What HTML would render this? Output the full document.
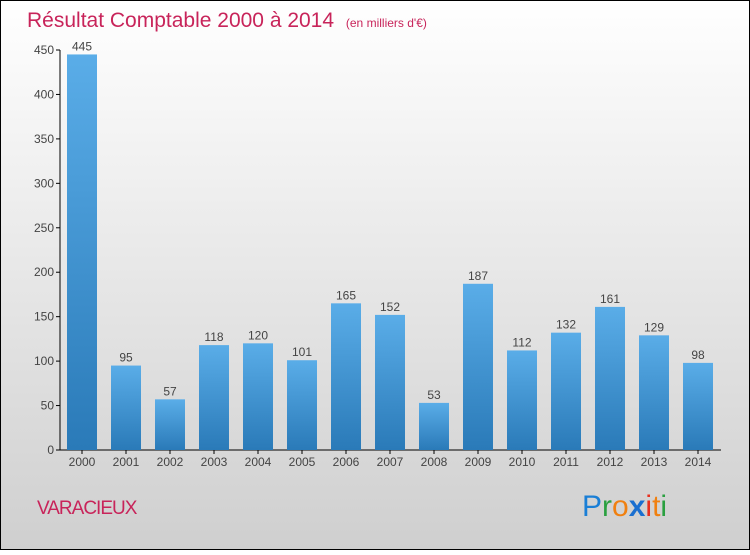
<!DOCTYPE html>
<html><head><meta charset="utf-8"><style>
body{margin:0;width:750px;height:550px;overflow:hidden;font-family:"Liberation Sans",sans-serif}
</style></head><body>
<svg id="chart" width="750" height="550" xmlns="http://www.w3.org/2000/svg">
<defs>
<linearGradient id="bg" x1="0" y1="0" x2="0" y2="1"><stop offset="0" stop-color="#ffffff"/><stop offset="1" stop-color="#cfcfcf"/></linearGradient>
<linearGradient id="bar" x1="0" y1="0" x2="0" y2="1"><stop offset="0" stop-color="#5aade8"/><stop offset="1" stop-color="#2a7ab8"/></linearGradient>
</defs>
<rect x="0.5" y="0.5" width="749" height="549" fill="url(#bg)" stroke="#000"/>
<text x="27" y="27" font-size="21" fill="#c8245a">Résultat Comptable 2000 à 2014 <tspan font-size="12" dx="6">(en milliers d'€)</tspan></text>
<g id="plot"></g>
<text x="37" y="514" font-size="19" fill="#c8245a" letter-spacing="-1">VARACIEUX</text>
<g font-size="30" font-family="Liberation Sans, sans-serif">
<text x="582" y="516"><tspan fill="#1a7fd6">P</tspan><tspan fill="#2aa040">r</tspan><tspan fill="#f08010">o</tspan><tspan fill="#1a6fd0" font-weight="bold">x</tspan><tspan fill="#e83020">i</tspan><tspan fill="#f08010">t</tspan><tspan fill="#2aa040">i</tspan></text>
</g>
</svg>
<script>
const categories=["2000","2001","2002","2003","2004","2005","2006","2007","2008","2009","2010","2011","2012","2013","2014"];
const values=[445,95,57,118,120,101,165,152,53,187,112,132,161,129,98];
const yTicks=[0,50,100,150,200,250,300,350,400,450];
const NS="http://www.w3.org/2000/svg";
const g=document.getElementById('plot');
const y0=450,yTop=50,yMax=450,x0=82,step=44,bw=30;
const yScale=v=>y0-(v/yMax)*(y0-yTop);
const xScale=i=>x0+i*step;
function mk(t,a,p){const e=document.createElementNS(NS,t);for(const k in a)e.setAttribute(k,a[k]);(p||g).appendChild(e);return e;}
let ax=mk('line',{x1:60,y1:yTop,x2:60,y2:y0,stroke:'#000'});


let bx=mk('line',{x1:60,y1:y0,x2:721,y2:y0,stroke:'#000'});


yTicks.forEach(v=>{const y=yScale(v);
 let t=mk('line',{x1:56,y1:y,x2:60,y2:y,stroke:'#000'});
 
 
 let l=mk('text',{x:54,y:y+4,'text-anchor':'end','font-size':12,fill:'#444'});l.textContent=v;
 
 
});
categories.forEach((c,i)=>{const x=xScale(i),v=values[i],y=yScale(v);
 let t=mk('line',{x1:x,y1:y0,x2:x,y2:y0+4,stroke:'#000'});
 
 
 let r=mk('rect',{x:x-bw/2,y:y,width:bw,height:y0-y,fill:'url(#bar)'});
 
 
 let vl=mk('text',{x:x,y:y-4,'text-anchor':'middle','font-size':12,fill:'#444'});vl.textContent=v;
 
 
 let xl=mk('text',{x:x,y:466,'text-anchor':'middle','font-size':12,fill:'#444'});xl.textContent=c;
 
 
});
</script>
</body></html>
